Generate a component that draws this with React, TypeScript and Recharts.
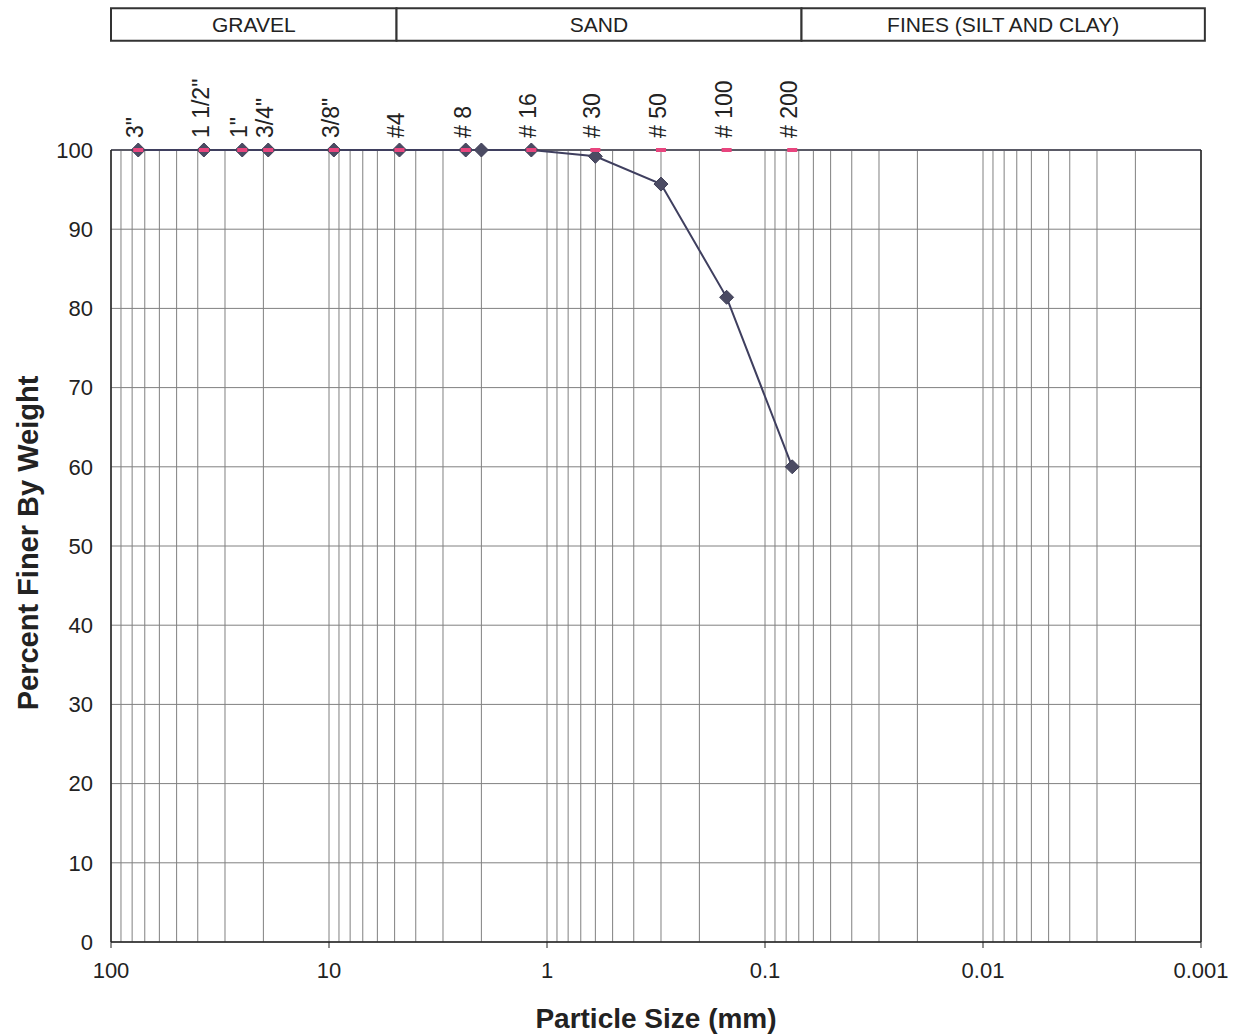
import {
  CartesianGrid,
  ComposedChart,
  Label,
  Line,
  ReferenceArea,
  ReferenceLine,
  XAxis,
  YAxis,
} from 'recharts'

// sieve openings (mm) and their names along the top
const SIEVE_SIZES = [75, 37.5, 25, 19, 9.5, 4.75, 2.36, 1.18, 0.6, 0.3, 0.15, 0.075]
const SIEVE_LABELS = ['3"', '1 1/2"', '1"', '3/4"', '3/8"', '#4', '# 8', '# 16', '# 30', '# 50', '# 100', '# 200']

// measured gradation
const SAMPLE_SIZES = [75, 37.5, 25, 19, 9.5, 4.75, 2.36, 2.0, 1.18, 0.6, 0.3, 0.15, 0.075]
const PERCENT_FINER = [100, 100, 100, 100, 100, 100, 100, 100, 100, 99.2, 95.7, 81.4, 60.0]

const DECADES = [100, 10, 1, 0.1, 0.01, 0.001]
const Y_TICKS = [0, 10, 20, 30, 40, 50, 60, 70, 80, 90, 100]

// soil classification bands across the top
const BAND_LABELS = ['GRAVEL', 'SAND', 'FINES (SILT AND CLAY)']
const BAND_EDGES = [100, 4.9, 0.068, 0.00096]
const BAND_LOW = 113.8
const BAND_HIGH = 117.9

// log grid lines: 1..9 in each decade
const GRID_TICKS: number[] = [100]
DECADES.slice(1).forEach((d) => {
  for (let m = 9; m >= 1; m--) GRID_TICKS.push(Number((d * m).toPrecision(3)))
})

const sampleData = SAMPLE_SIZES.map((size, i) => ({ size, pct: PERCENT_FINER[i] }))
const sieveData = SIEVE_SIZES.map((size) => ({ size, pct: 100 }))

const TEXT = '#222'

function Diamond(props: any) {
  const { cx, cy } = props
  if (cx == null || cy == null) return null
  const r = 7
  return (
    <polygon
      points={`${cx},${cy - r} ${cx + r},${cy} ${cx},${cy + r} ${cx - r},${cy}`}
      fill="#4b4b63"
      stroke="#3f3f57"
    />
  )
}

function PinkDash(props: any) {
  const { cx, cy } = props
  if (cx == null || cy == null) return null
  return <rect x={cx - 5} y={cy - 2} width={10} height={4} fill="#e8457e" />
}

function BottomTick(props: any) {
  const { x, y, payload } = props
  if (!DECADES.includes(payload.value)) return null
  return (
    <g>
      <line x1={x} x2={x} y1={y} y2={y + 6} stroke="#222" />
      <text x={x} y={y + 36} textAnchor="middle" fontSize={22} fill={TEXT}>
        {String(payload.value)}
      </text>
    </g>
  )
}

function TopTick(props: any) {
  const { x, y, payload } = props
  const idx = SIEVE_SIZES.indexOf(payload.value)
  const tx = x - 3
  const ty = y - 12
  return (
    <text
      x={tx}
      y={ty}
      transform={`rotate(-90 ${tx} ${ty})`}
      textAnchor="start"
      dominantBaseline="central"
      fontSize={23}
      fill={TEXT}
    >
      {SIEVE_LABELS[idx]}
    </text>
  )
}

function YTitle(props: any) {
  const { viewBox } = props
  const cx = viewBox.x + 28
  const cy = viewBox.y + viewBox.height / 2 - 3
  return (
    <text
      x={cx}
      y={cy}
      transform={`rotate(-90 ${cx} ${cy})`}
      textAnchor="middle"
      dominantBaseline="central"
      fontSize={29}
      fontWeight="bold"
      fill={TEXT}
    >
      Percent Finer By Weight
    </text>
  )
}

function XTitle(props: any) {
  const { viewBox } = props
  return (
    <text
      x={viewBox.x + viewBox.width / 2}
      y={viewBox.y + 86}
      textAnchor="middle"
      fontSize={28}
      fontWeight="bold"
      fill={TEXT}
    >
      Particle Size (mm)
    </text>
  )
}

export default function App() {
  return (
    <div
      style={{
        position: 'absolute',
        left: 0,
        top: 0,
        width: 1235,
        height: 1036,
        background: '#fff',
        fontFamily: '"Liberation Sans", Arial, sans-serif',
      }}
    >
      <ComposedChart width={1235} height={1036} margin={{ top: 50, right: 34, bottom: 0, left: 0 }}>
        <CartesianGrid stroke="#808080" strokeWidth={1} />
        <XAxis
          dataKey="size"
          type="number"
          scale="log"
          domain={[0.001, 100]}
          reversed
          allowDataOverflow
          ticks={GRID_TICKS}
          interval={0}
          tick={<BottomTick />}
          tickLine={false}
          tickSize={0}
          tickMargin={0}
          height={94}
          axisLine={{ stroke: '#222', strokeWidth: 1.5 }}
        >
          <Label content={<XTitle />} />
        </XAxis>
        <XAxis
          xAxisId="top"
          orientation="top"
          dataKey="size"
          type="number"
          scale="log"
          domain={[0.001, 100]}
          reversed
          allowDataOverflow
          ticks={SIEVE_SIZES}
          interval={0}
          tick={<TopTick />}
          tickLine={false}
          tickSize={0}
          tickMargin={0}
          height={100}
          axisLine={false}
        />
        <YAxis
          type="number"
          domain={[0, 100]}
          ticks={Y_TICKS}
          interval={0}
          width={111}
          tickLine={false}
          tickSize={8}
          tickMargin={10}
          tick={{ fontSize: 22, fill: TEXT }}
          axisLine={{ stroke: '#222', strokeWidth: 1.5 }}
        >
          <Label content={<YTitle />} />
        </YAxis>

        {BAND_LABELS.map((label, i) => (
          <ReferenceArea
            key={label}
            x1={BAND_EDGES[i]}
            x2={BAND_EDGES[i + 1]}
            y1={BAND_LOW}
            y2={BAND_HIGH}
            ifOverflow="visible"
            fill="#fff"
            fillOpacity={1}
            stroke="#333"
            strokeWidth={2}
            label={{ value: label, position: 'center', fontSize: 21, fill: TEXT }}
          />
        ))}

        <ReferenceLine y={100} stroke="#5a5a66" strokeWidth={2} />
        <ReferenceLine x={0.001} stroke="#222" strokeWidth={1.5} />

        <Line
          data={sampleData}
          dataKey="pct"
          stroke="#3f3f5f"
          strokeWidth={2}
          dot={<Diamond />}
          activeDot={false}
          isAnimationActive={false}
        />
        <Line
          xAxisId="top"
          data={sieveData}
          dataKey="pct"
          stroke="none"
          dot={<PinkDash />}
          activeDot={false}
          isAnimationActive={false}
        />
      </ComposedChart>
    </div>
  )
}
